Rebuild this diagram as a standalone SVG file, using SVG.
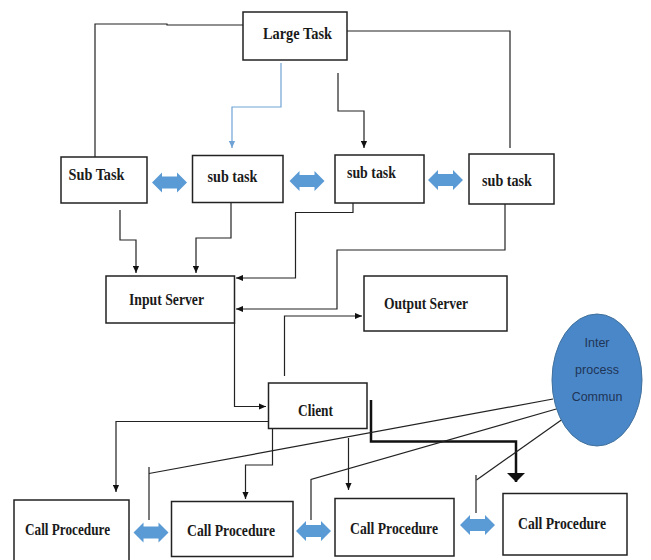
<svg xmlns="http://www.w3.org/2000/svg" xmlns:xlink="http://www.w3.org/1999/xlink" width="651" height="560" viewBox="0 0 651 560">
<style>
.box{fill:#fff;stroke:#222;stroke-width:1.5}
.lbl{font-family:"Liberation Serif","Times New Roman",serif;font-size:17px;font-weight:bold;fill:#1a1a1a}
.ln{fill:none;stroke:#222;stroke-width:1.2}
.blue{fill:none;stroke:#6fa3d6;stroke-width:1.2}
.thick{fill:none;stroke:#111;stroke-width:2.5}
.dbl{fill:#5b9bd5}
.ipc{font-family:"Liberation Sans",Arial,sans-serif;font-size:12.5px;fill:#1f3556}
</style>
<defs>
<marker id="ah" viewBox="0 0 8 8" refX="8" refY="4" markerWidth="7" markerHeight="7" orient="auto" markerUnits="userSpaceOnUse"><path d="M0,0.5 L8,4 L0,7.5 z" fill="#111"/></marker>
<marker id="ahb" viewBox="0 0 8 8" refX="8" refY="4" markerWidth="7" markerHeight="7" orient="auto" markerUnits="userSpaceOnUse"><path d="M0,0.5 L8,4 L0,7.5 z" fill="#6fa3d6"/></marker>
<marker id="ahk" viewBox="0 0 9 18" refX="9" refY="9" markerWidth="9" markerHeight="18" orient="auto" markerUnits="userSpaceOnUse"><path d="M0,0 L9,9 L0,18 z" fill="#111"/></marker>
<path id="dbl" d="M0,0 L10,-10 L10,-6 L25,-6 L25,-10 L35,0 L25,10 L25,6 L10,6 L10,10 Z"/>
</defs>

<g id="connectors">
<path class="ln" d="M243,25 H167 V24 H95 V157"/>
<path class="ln" d="M347,31 H510 V148"/>
<path class="blue" d="M281,63 V107 H232 V148" marker-end="url(#ahb)"/>
<path class="ln" d="M338,73 V111 H364 V148" marker-end="url(#ah)"/>
<path class="ln" d="M120,210 V240 H136 V273" marker-end="url(#ah)"/>
<path class="ln" d="M231,203 V238 H196 V273" marker-end="url(#ah)"/>
<path class="ln" d="M353,203 V212.5 H295.5 V278 H236" marker-end="url(#ah)"/>
<path class="ln" d="M505,204 V250 H337 V309 H236" marker-end="url(#ah)"/>
<path class="ln" d="M234.5,323 V406.5 H266" marker-end="url(#ah)"/>
<path class="ln" d="M284.5,376 V316 H362" marker-end="url(#ah)"/>
<path class="thick" d="M371,400 V441.5 H516 V482" marker-end="url(#ahk)"/>
<path class="ln" d="M268,421.5 H116 V492" marker-end="url(#ah)"/>
<path class="ln" d="M272.5,428 V465 H245.5 V499" marker-end="url(#ah)"/>
<path class="ln" d="M348.5,438 V490" marker-end="url(#ah)"/>
<path class="ln" d="M553,399 L149,473.5"/>
<path class="ln" d="M149,467 V520"/>
<path class="ln" d="M558,408.5 L311,479.5 V520"/>
<path class="ln" d="M567,416 L476.5,480"/>
<path class="ln" d="M476,475 V513"/>
<use xlink:href="#dbl" class="dbl" x="152" y="182.5"/>
<use xlink:href="#dbl" class="dbl" x="289.5" y="181"/>
<use xlink:href="#dbl" class="dbl" x="428" y="180"/>
<use xlink:href="#dbl" class="dbl" x="133.5" y="532.5"/>
<use xlink:href="#dbl" class="dbl" x="296" y="531"/>
<use xlink:href="#dbl" class="dbl" x="460" y="525"/>
</g>

<g id="large-task">
<rect class="box" x="243" y="12" width="104" height="48"/>
<text class="lbl" x="263" y="39" textLength="69" lengthAdjust="spacingAndGlyphs">Large Task</text>
</g>
<g id="sub-task-1">
<rect class="box" x="61" y="157" width="86" height="46"/>
<text class="lbl" x="68.5" y="180" textLength="56" lengthAdjust="spacingAndGlyphs">Sub Task</text>
</g>
<g id="sub-task-2">
<rect class="box" x="192.5" y="155.5" width="90.5" height="47"/>
<text class="lbl" x="207.5" y="182" textLength="50" lengthAdjust="spacingAndGlyphs">sub task</text>
</g>
<g id="sub-task-3">
<rect class="box" x="335" y="155" width="89" height="48"/>
<text class="lbl" x="347" y="178" textLength="49" lengthAdjust="spacingAndGlyphs">sub task</text>
</g>
<g id="sub-task-4">
<rect class="box" x="469" y="154" width="85" height="50"/>
<text class="lbl" x="482" y="186" textLength="50" lengthAdjust="spacingAndGlyphs">sub task</text>
</g>
<g id="input-server">
<rect class="box" x="106" y="276" width="128.5" height="47"/>
<text class="lbl" x="129" y="305" textLength="75" lengthAdjust="spacingAndGlyphs">Input Server</text>
</g>
<g id="output-server">
<rect class="box" x="364" y="276" width="143" height="55"/>
<text class="lbl" x="384" y="309" textLength="84" lengthAdjust="spacingAndGlyphs">Output Server</text>
</g>
<g id="client">
<rect class="box" x="268.5" y="383" width="98.5" height="45.5"/>
<text class="lbl" x="298" y="416" textLength="35" lengthAdjust="spacingAndGlyphs">Client</text>
</g>
<g id="ipc">
<ellipse cx="597" cy="380" rx="45" ry="66" fill="#4a87c9" stroke="#41719c" stroke-width="1"/>
<text class="ipc" x="597" y="347" text-anchor="middle">Inter</text>
<text class="ipc" x="597" y="374" text-anchor="middle">process</text>
<text class="ipc" x="597" y="401" text-anchor="middle">Commun</text>
</g>
<g id="call-procedure-1">
<rect class="box" x="14" y="500" width="115" height="66"/>
<text class="lbl" x="25" y="535" textLength="85" lengthAdjust="spacingAndGlyphs">Call Procedure</text>
</g>
<g id="call-procedure-2">
<rect class="box" x="171.5" y="501.5" width="121.5" height="55"/>
<text class="lbl" x="187" y="536" textLength="88" lengthAdjust="spacingAndGlyphs">Call Procedure</text>
</g>
<g id="call-procedure-3">
<rect class="box" x="335" y="498.5" width="119" height="57.5"/>
<text class="lbl" x="350" y="534" textLength="88" lengthAdjust="spacingAndGlyphs">Call Procedure</text>
</g>
<g id="call-procedure-4">
<rect class="box" x="503" y="493.5" width="124" height="61.5"/>
<text class="lbl" x="518" y="529" textLength="88" lengthAdjust="spacingAndGlyphs">Call Procedure</text>
</g>
</svg>
